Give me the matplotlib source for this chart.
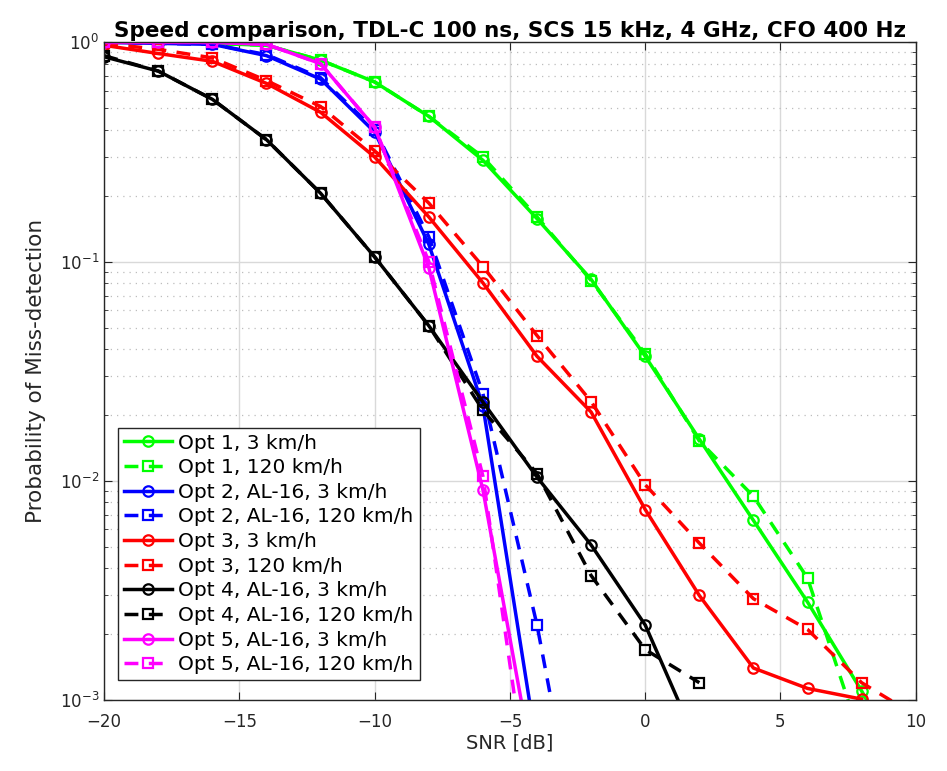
import numpy as np
import matplotlib
matplotlib.use("Agg")
import matplotlib.pyplot as plt

snr = [-20, -18, -16, -14, -12, -10, -8, -6, -4, -2, 0, 2, 4, 6, 8, 10]
nan = np.nan

# Opt 1
opt1_3 = [1.0, 1.0, 0.99, 0.97, 0.83, 0.66, 0.46, 0.29, 0.157, 0.083, 0.037, 0.0155, 0.0066, 0.0028, 0.0011, 0.0004]
opt1_120 = [1.0, 1.0, 0.99, 0.97, 0.83, 0.66, 0.46, 0.30, 0.16, 0.082, 0.038, 0.0152, 0.0085, 0.0036, 0.00065, nan]
# Opt 2, AL-16
opt2_3 = [1.0, 0.99, 0.98, 0.87, 0.68, 0.39, 0.12, 0.022, 0.0006, nan, nan, nan, nan, nan, nan, nan]
opt2_120 = [1.0, 0.99, 0.98, 0.88, 0.69, 0.40, 0.13, 0.025, 0.0022, 0.00011, nan, nan, nan, nan, nan, nan]
# Opt 3
opt3_3 = [0.97, 0.89, 0.82, 0.65, 0.48, 0.30, 0.16, 0.08, 0.037, 0.0206, 0.0074, 0.003, 0.0014, 0.00113, 0.00101, nan]
opt3_120 = [0.99, 0.93, 0.85, 0.67, 0.51, 0.32, 0.185, 0.095, 0.046, 0.023, 0.0096, 0.0052, 0.0029, 0.0021, 0.0012, 0.00085]
# Opt 4, AL-16
opt4_3 = [0.86, 0.74, 0.55, 0.36, 0.205, 0.105, 0.051, 0.0229, 0.0104, 0.0051, 0.0022, 0.0006, nan, nan, nan, nan]
opt4_120 = [0.87, 0.74, 0.55, 0.36, 0.205, 0.105, 0.051, 0.021, 0.0108, 0.0037, 0.0017, 0.0012, nan, nan, nan, nan]
# Opt 5, AL-16
opt5_3 = [1.0, 1.0, 1.0, 0.98, 0.80, 0.41, 0.094, 0.0091, 0.0004, nan, nan, nan, nan, nan, nan, nan]
opt5_120 = [1.0, 1.0, 1.0, 0.98, 0.80, 0.41, 0.10, 0.0105, 0.0002, nan, nan, nan, nan, nan, nan, nan]

series = [
    (opt1_3, "Opt 1, 3 km/h", "#00ff00", "-", "o"),
    (opt1_120, "Opt 1, 120 km/h", "#00ff00", "--", "s"),
    (opt2_3, "Opt 2, AL-16, 3 km/h", "#0000ff", "-", "o"),
    (opt2_120, "Opt 2, AL-16, 120 km/h", "#0000ff", "--", "s"),
    (opt3_3, "Opt 3, 3 km/h", "#ff0000", "-", "o"),
    (opt3_120, "Opt 3, 120 km/h", "#ff0000", "--", "s"),
    (opt4_3, "Opt 4, AL-16, 3 km/h", "#000000", "-", "o"),
    (opt4_120, "Opt 4, AL-16, 120 km/h", "#000000", "--", "s"),
    (opt5_3, "Opt 5, AL-16, 3 km/h", "#ff00ff", "-", "o"),
    (opt5_120, "Opt 5, AL-16, 120 km/h", "#ff00ff", "--", "s"),
]

fig = plt.figure(figsize=(9.47, 7.71), dpi=100)
ax = fig.add_axes([0.11, 0.092, 0.857, 0.853])

for vals, lab, col, ls, mk in series:
    ax.semilogy(snr, vals, linestyle=ls, color=col, marker=mk, markersize=7.5,
                markerfacecolor="none", markeredgewidth=1.6, linewidth=2.5,
                label=lab, dashes=(4, 3) if ls == "--" else (None, None))

ax.set_xlim(-20, 10)
ax.set_ylim(1e-3, 1)
ax.set_xticks([-20, -15, -10, -5, 0, 5, 10])
ax.grid(True, which="major", color="#d9d9d9", linewidth=1.0)
ax.grid(True, which="minor", axis="y", color="#bdbdbd", linestyle=(0, (1, 4)), linewidth=0.9)
ax.tick_params(which="both", direction="in", top=True, right=True, labelsize=12, colors="#262626")
ax.tick_params(which="major", length=6)
ax.tick_params(which="minor", length=3)
ax.tick_params(axis="x", pad=9)
for s in ax.spines.values():
    s.set_color("#262626")
    s.set_linewidth(1.0)

ax.set_xlabel("SNR [dB]", fontsize=14, color="#262626", labelpad=2)
ax.set_ylabel("Probability of Miss-detection", fontsize=15.5, color="#262626", labelpad=10)
ax.set_title("Speed comparison, TDL-C 100 ns, SCS 15 kHz, 4 GHz, CFO 400 Hz",
             fontsize=15.5, fontweight="bold", family=["Liberation Sans Narrow", "DejaVu Sans"], pad=4)

leg = ax.legend(loc="lower left", bbox_to_anchor=(0.017, 0.03), fontsize=14.5, frameon=True,
                fancybox=False, edgecolor="#262626", framealpha=1, handlelength=2.4,
                borderpad=0.3, labelspacing=0.28, handletextpad=0.3, borderaxespad=0)
leg.get_frame().set_linewidth(1.0)

fig.savefig("out.png", dpi=100)
